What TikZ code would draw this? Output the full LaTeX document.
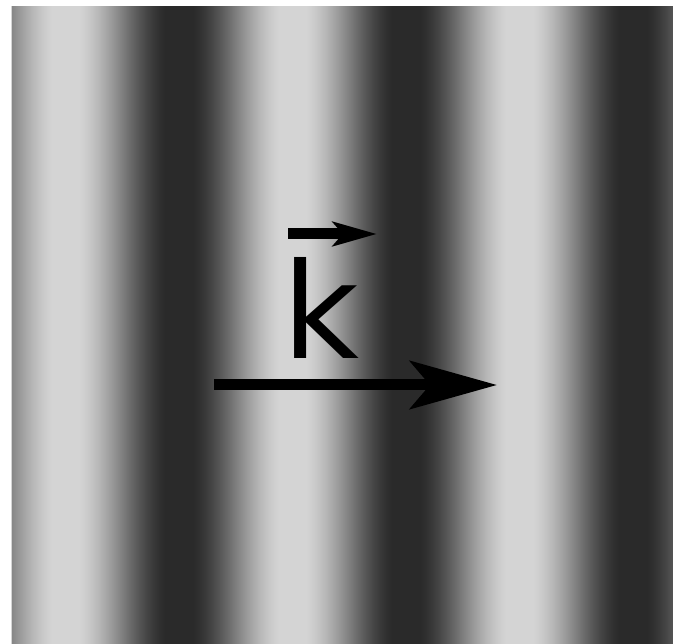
\documentclass[tikz,border=0pt]{standalone}
\usepackage{fontspec}
\setmainfont{DejaVu Sans}
\usetikzlibrary{arrows.meta, positioning}

\tikzset{
  wavearrow/.style={line width=11pt, -{Stealth[length=87pt, width=48pt, inset=20pt]}},
  vecarrow/.style={line width=11pt, -{Stealth[length=44pt, width=24pt, inset=10pt]}},
  klabel/.style={inner sep=0pt, anchor=base west, font=\fontsize{133}{140}\selectfont},
}

\begin{document}
\begin{tikzpicture}[x=1pt, y=-1pt]
  \useasboundingbox (0,0) rectangle (673,644);
  % plane wave fronts: clipped cosine in grey
  \begin{scope}
    \clip (11.5,6) rectangle (673,644);
    \foreach \i in {11,...,672} {
      \pgfmathtruncatemacro\g{127+85*max(-1,min(1,1.08*cos((\i+0.5-66)*1.5859)))}
      \fill[fill={rgb,255:red,\g;green,\g;blue,\g}] (\i,6) rectangle (\i+1.8,644);
    }
  \end{scope}
  % wave vector
  \node[klabel] (k) at (282,359) {k};
  \coordinate (vfrom) at (288,234);
  \coordinate (vto) at (377,234);
  \draw[vecarrow] (vfrom) -- (vto);
  \coordinate (kfrom) at (214,385);
  \coordinate (kto) at (497,385);
  \draw[wavearrow] (kfrom) -- (kto);
\end{tikzpicture}
\end{document}
